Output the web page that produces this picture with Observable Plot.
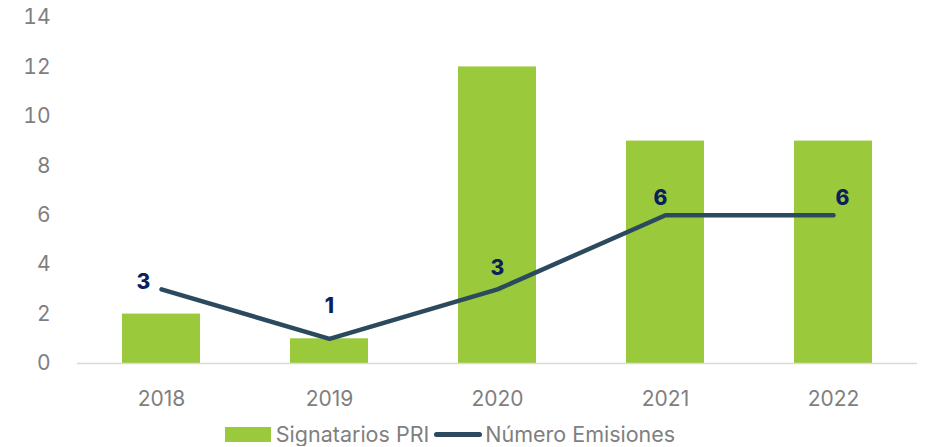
<!DOCTYPE html>
<html>
<head>
<meta charset="utf-8">
<script src="https://cdn.jsdelivr.net/npm/d3@7"></script>
<script src="https://cdn.jsdelivr.net/npm/@observablehq/plot@0.6"></script>
<style>
  body { margin: 0; background: #fff; font-family: Inter, "Open Sans", sans-serif; }
  #chart svg { display: block; }
  .legend { display: flex; align-items: center; justify-content: center; margin-top: 7px; padding-right: 25px;
            font-size: 21.5px; line-height: 24px; color: #7f7f7f; font-family: Inter, sans-serif; }
  .sw-bar { width: 46px; height: 15px; background: #9ACA3C; margin-right: 5px; }
  .sw-line { width: 48px; height: 5px; border-radius: 3px; background: #2B4A5E; margin: 0 3px 0 5px; }
</style>
</head>
<body>
<div id="chart"></div>
<script>
const years = ["2018", "2019", "2020", "2021", "2022"];
const signatarios = [2, 1, 12, 9, 9];
const emisiones = [3, 1, 3, 6, 6];
const yTicks = [0, 2, 4, 6, 8, 10, 12, 14];

const data = years.map((y, i) => ({year: y, sig: signatarios[i], em: emisiones[i]}));
const lab = {x: "year", y: "em", text: d => String(d.em), fill: "#0B1F5C", fontWeight: 800, fontSize: 21};
const pick = i => data.filter((d, j) => j === i);

const plot = Plot.plot({
  width: 925,
  height: 415,
  marginTop: 17,
  marginBottom: 52,
  marginLeft: 77,
  marginRight: 8,
  style: {fontFamily: "Inter, sans-serif", fontSize: "21px", color: "#7f7f7f", background: "#fff"},
  x: {domain: years, paddingInner: 0.536, paddingOuter: 0.268, label: null, tickSize: 0, tickPadding: 28},
  y: {domain: [0, 14], ticks: yTicks, label: null, tickSize: 0, tickPadding: 27},
  marks: [
    Plot.barY(data, {x: "year", y: "sig", fill: "#9ACA3C"}),
    Plot.ruleY([0], {stroke: "#d9d9d9", strokeWidth: 1.5}),
    Plot.line(data, {x: "year", y: "em", stroke: "#2B4A5E", strokeWidth: 4.5, strokeLinecap: "round", strokeLinejoin: "round"}),
    Plot.text(pick(0), {...lab, dx: -18, dy: -7}),
    Plot.text(pick(1), {...lab, dy: -33}),
    Plot.text(pick(2), {...lab, dy: -21}),
    Plot.text(pick(3), {...lab, dx: -5, dy: -17}),
    Plot.text(pick(4), {...lab, dx: 9, dy: -17})
  ]
});
document.getElementById("chart").appendChild(plot);

const legend = document.createElement("div");
legend.className = "legend";
legend.innerHTML = '<span class="sw-bar"></span><span>Signatarios PRI</span><span class="sw-line"></span><span>Número Emisiones</span>';
document.body.appendChild(legend);
</script>
</body>
</html>
